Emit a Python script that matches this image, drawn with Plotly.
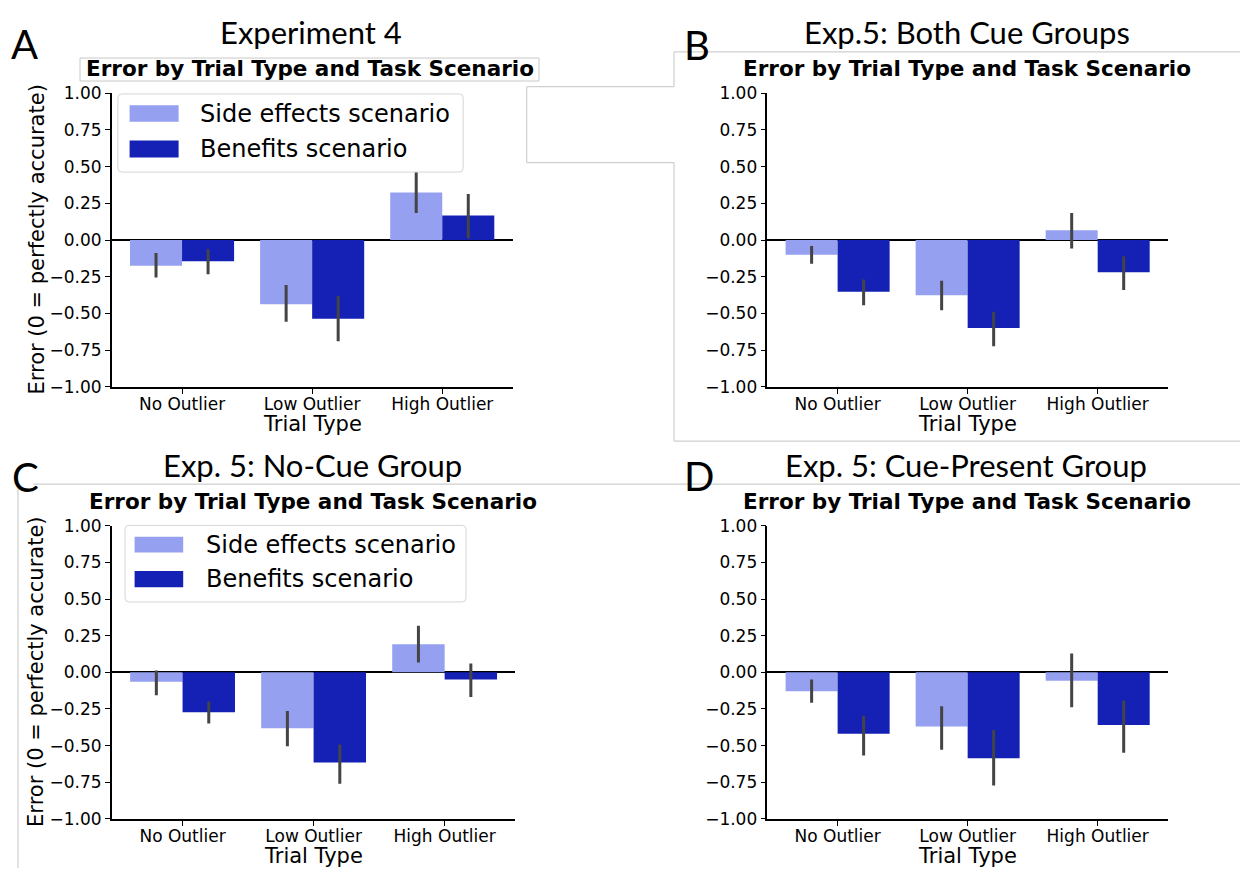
import plotly.graph_objects as go

# reference canvas (pixels); the page body has an 8px margin, so the figure is
# placed 8px in from the top-left and filled to the window's right/bottom edge
REF_W, REF_H = 1248, 878
OFF = 8
W, H = REF_W - OFF, REF_H - OFF

trial_types = ["No Outlier", "Low Outlier", "High Outlier"]
series_names = ["Side effects scenario", "Benefits scenario"]
y_ticks = [-1.0, -0.75, -0.5, -0.25, 0.0, 0.25, 0.5, 0.75, 1.0]
y_tick_labels = ["\u22121.00", "\u22120.75", "\u22120.50", "\u22120.25", "0.00", "0.25", "0.50", "0.75", "1.00"]

# Panel A: Experiment 4
a_side = [-0.175, -0.438, 0.324]
a_side_lo = [-0.256, -0.556, 0.184]
a_side_hi = [-0.089, -0.307, 0.465]
a_ben = [-0.144, -0.536, 0.167]
a_ben_lo = [-0.233, -0.689, 0.011]
a_ben_hi = [-0.062, -0.382, 0.313]

# Panel B: Exp.5 both cue groups
b_side = [-0.100, -0.376, 0.067]
b_side_lo = [-0.162, -0.478, -0.058]
b_side_hi = [-0.040, -0.278, 0.184]
b_ben = [-0.353, -0.600, -0.220]
b_ben_lo = [-0.445, -0.724, -0.340]
b_ben_hi = [-0.269, -0.489, -0.111]

# Panel C: Exp.5 no-cue group
c_side = [-0.064, -0.382, 0.191]
c_side_lo = [-0.156, -0.504, 0.067]
c_side_hi = [0.013, -0.264, 0.318]
c_ben = [-0.273, -0.616, -0.049]
c_ben_lo = [-0.349, -0.760, -0.169]
c_ben_hi = [-0.200, -0.493, 0.060]

# Panel D: Exp.5 cue-present group
d_side = [-0.129, -0.369, -0.058]
d_side_lo = [-0.207, -0.529, -0.238]
d_side_hi = [-0.049, -0.231, 0.129]
d_ben = [-0.420, -0.587, -0.360]
d_ben_lo = [-0.567, -0.773, -0.549]
d_ben_hi = [-0.296, -0.393, -0.193]

panel_titles = ["Experiment 4", "Exp.5: Both Cue Groups", "Exp. 5: No-Cue Group", "Exp. 5: Cue-Present Group"]
panel_letters = ["A", "B", "C", "D"]
subtitle = "Error by Trial Type and Task Scenario"
y_title = "Error (0 = perfectly accurate)"
x_title = "Trial Type"

LIGHT = "#96a0f0"
DARK = "#1421b4"
ERR = "#444444"
GRAYLINE = "#cfcfcf"
FONT = "DejaVu Sans"
TFONT = "Lato"

def px(x):
    return (x - OFF) / W

def py(y):
    return 1 - (y - OFF) / H

# pixel boxes of plot areas in reference coordinates: (x0, x1, ytop, ybottom)
boxes = [
    (111.8, 512.5, 85.0, 385.5),
    (767.4, 1167.9, 85.0, 385.5),
    (111.8, 515.4, 527.7, 827.7),
    (767.4, 1167.9, 527.7, 827.7),
]

panels = [
    (a_side, a_side_lo, a_side_hi, a_ben, a_ben_lo, a_ben_hi),
    (b_side, b_side_lo, b_side_hi, b_ben, b_ben_lo, b_ben_hi),
    (c_side, c_side_lo, c_side_hi, c_ben, c_ben_lo, c_ben_hi),
    (d_side, d_side_lo, d_side_hi, d_ben, d_ben_lo, d_ben_hi),
]

fig = go.Figure()

for i, (s, slo, shi, b, blo, bhi) in enumerate(panels):
    ax = "" if i == 0 else str(i + 1)
    for vals, lo, hi, name, col in [
        (s, slo, shi, series_names[0], LIGHT),
        (b, blo, bhi, series_names[1], DARK),
    ]:
        fig.add_trace(go.Bar(
            x=trial_types, y=vals, name=name, showlegend=False,
            marker=dict(color=col, line=dict(width=0)),
            error_y=dict(type="data", symmetric=False,
                         array=[h - v for h, v in zip(hi, vals)],
                         arrayminus=[v - l for v, l in zip(vals, lo)],
                         color=ERR, thickness=3, width=0),
            xaxis="x" + ax, yaxis="y" + ax,
        ))

layout = dict(
    width=W, height=H, autosize=False,
    margin=dict(l=0, r=0, t=0, b=0),
    paper_bgcolor="white", plot_bgcolor="white",
    barmode="group", bargap=0.2, bargroupgap=0,
    showlegend=False,
    font=dict(family=FONT, color="black"),
)

for i, (x0, x1, yt, yb) in enumerate(boxes):
    ax = "" if i == 0 else str(i + 1)
    tick_size = 17
    xa = dict(
        domain=[px(x0), px(x1)], anchor="y" + ax,
        type="category", categoryorder="array", categoryarray=trial_types,
        range=[-0.54, 2.54], showgrid=False, zeroline=False,
        showline=True, linecolor="black", linewidth=1.5,
        ticks="outside", ticklen=5, tickwidth=1.3, tickcolor="black",
        ticklabelstandoff=-4,
        tickfont=dict(size=tick_size, family=FONT, color="black"),
    )
    ya = dict(
        domain=[py(yb), py(yt)], anchor="x" + ax,
        range=[-1, 1], tickmode="array", tickvals=y_ticks, ticktext=y_tick_labels,
        showgrid=False, zeroline=True, zerolinecolor="black", zerolinewidth=1.5,
        showline=True, linecolor="black", linewidth=1.5,
        ticks="outside", ticklen=5, tickwidth=1.3, tickcolor="black",
        tickfont=dict(size=tick_size, family=FONT, color="black"),
    )
    layout["xaxis" + ax] = xa
    layout["yaxis" + ax] = ya

fig.update_layout(**layout)

shapes = []
annotations = []

def line(x0, y0, x1, y1, color=GRAYLINE, w=1.2):
    shapes.append(dict(type="line", xref="paper", yref="paper",
                       x0=px(x0), y0=py(y0), x1=px(x1), y1=py(y1),
                       line=dict(color=color, width=w), layer="above"))

def rect(x0, y0, x1, y1, fill, lc=None, lw=0):
    shapes.append(dict(type="rect", xref="paper", yref="paper",
                       x0=px(x0), y0=py(y0), x1=px(x1), y1=py(y1),
                       fillcolor=fill, line=dict(color=lc or fill, width=lw), layer="above"))

def round_rect(x0, y0, x1, y1, r, fill, lc, lw):
    X0, X1, Yt, Yb = px(x0), px(x1), py(y0), py(y1)
    rx, ry = r / W, r / H
    p = (f"M {X0+rx},{Yt} L {X1-rx},{Yt} Q {X1},{Yt} {X1},{Yt-ry} "
         f"L {X1},{Yb+ry} Q {X1},{Yb} {X1-rx},{Yb} L {X0+rx},{Yb} "
         f"Q {X0},{Yb} {X0},{Yb+ry} L {X0},{Yt-ry} Q {X0},{Yt} {X0+rx},{Yt} Z")
    shapes.append(dict(type="path", xref="paper", yref="paper", path=p,
                       fillcolor=fill, line=dict(color=lc, width=lw), layer="above"))

def text(x, y, t, size, family=FONT, bold=False, xanchor="center", angle=0):
    annotations.append(dict(xref="paper", yref="paper", x=px(x), y=py(y),
                            text=("<b>%s</b>" % t) if bold else t, showarrow=False,
                            xanchor=xanchor, yanchor="middle", textangle=angle,
                            font=dict(size=size, family=family, color="black")))

# image border remnants
line(674, 42.7, 1248, 42.7)
line(674, 42.7, 674, 78.3)
line(526.7, 78.3, 674, 78.3)
line(526.7, 78.3, 526.7, 156)
line(526.7, 156, 674, 156)
line(674, 156, 674, 441)
line(674, 441, 1248, 441)
line(33, 485, 1248, 485)
line(18, 485, 18, 878)

# subtitle box in panel A
rect(80, 49, 539, 72.5, "white", "#c8c8c8", 1)

# legends (A and C)
def legend(bx0, by0, bx1, by1, sw_x0, sw_x1, sw_rows, tx):
    round_rect(bx0, by0, bx1, by1, 4, "rgba(255,255,255,0.92)", "#d6d6d6", 1)
    for (r0, r1), col, name in zip(sw_rows, [LIGHT, DARK], series_names):
        rect(sw_x0, r0, sw_x1, r1, col)
        text(tx, (r0 + r1) / 2, name, 24, xanchor="left")

legend(117.9, 85.7, 463.2, 165.7, 129.6, 178.6, [(97.3, 114.3), (133.3, 150.7)], 198.2)
legend(125.0, 527.3, 466.0, 605.7, 134.6, 183.2, [(539.0, 555.0), (574.0, 590.7)], 203.6)

# panel titles, letters and subtitles
title_pos = [(310.5, 22.5), (966.6, 22.8), (312.0, 465.5), (966.4, 465.5)]
letter_pos = [(24.3, 34.5), (696.7, 35.5), (25.0, 478.0), (698.5, 477.0)]
sub_pos = [(310.2, 60.0), (966.8, 59.5), (313.0, 503.0), (966.8, 503.0)]
for t, (x, y) in zip(panel_titles, title_pos):
    text(x, y, t, 31, family=TFONT)
for t, (x, y) in zip(panel_letters, letter_pos):
    text(x, y, t, 40, family=TFONT)
for (x, y) in sub_pos:
    text(x, y, subtitle, 21.5, bold=True)

# axis titles
xt_pos = [(312.0, 424.0), (967.6, 424.0), (313.5, 865.5), (967.6, 865.5)]
for (x, y) in xt_pos:
    text(x, y, x_title, 21)
yt_pos = [(36.6, 235.2), (36.6, 677.7)]
for (x, y) in yt_pos:
    text(x, y, y_title, 21, angle=-90)

fig.update_layout(shapes=shapes, annotations=annotations)
fig.write_html("out.html")
